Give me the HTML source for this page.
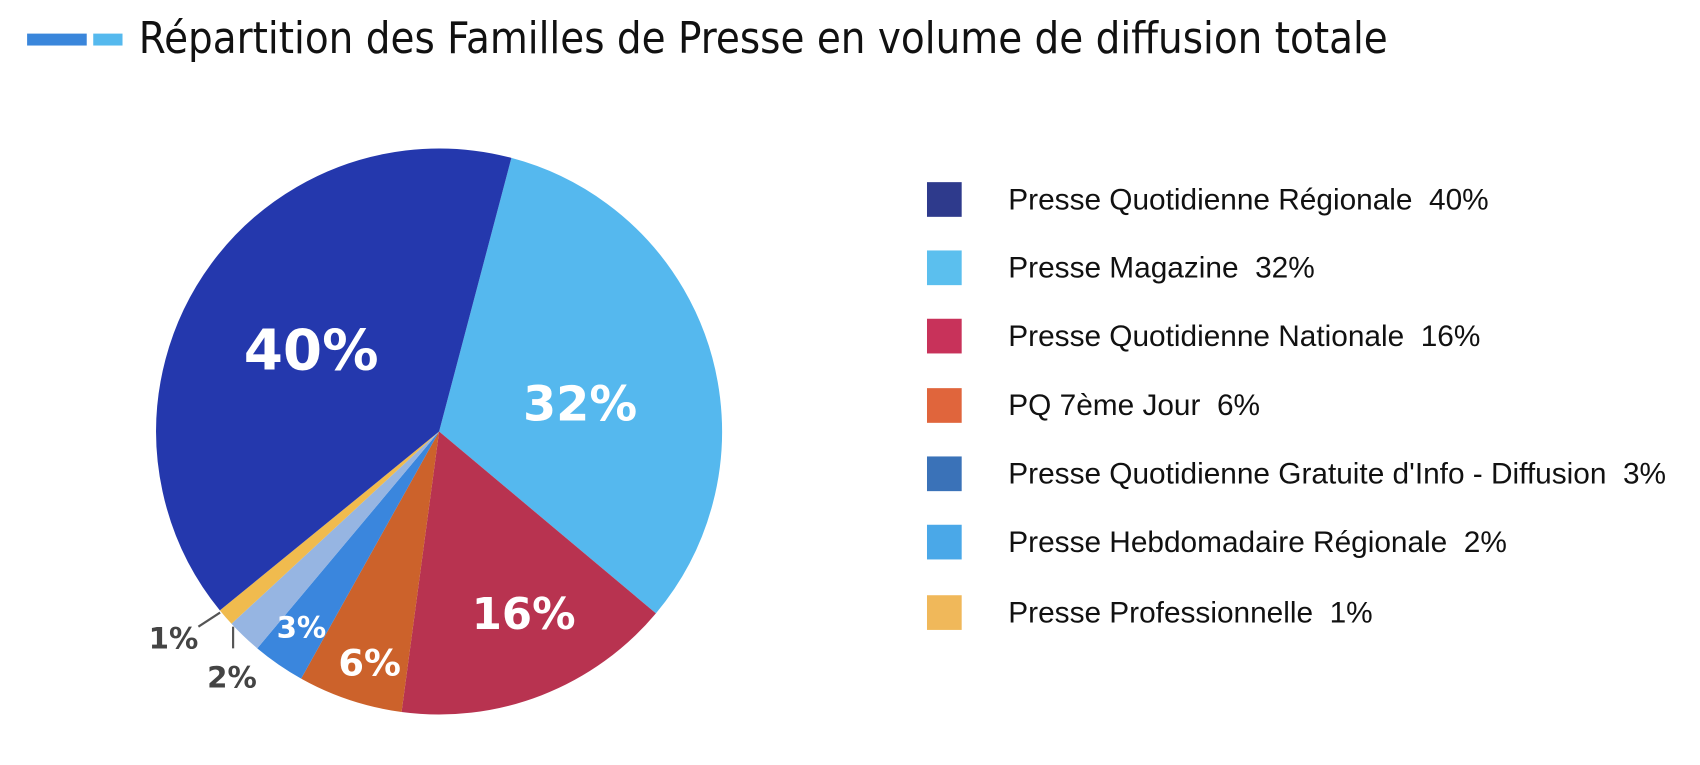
<!DOCTYPE html>
<html><head><meta charset="utf-8"><style>
html,body{margin:0;padding:0;background:#fff;}
body{width:1700px;height:760px;overflow:hidden;}
</style></head><body>
<svg width="1700" height="760" viewBox="0 0 1700 760" xmlns="http://www.w3.org/2000/svg">
<g transform="scale(1.0842)">
<rect x="25" y="31" width="55" height="11" fill="#3a86db"/>
<rect x="86" y="31" width="27" height="11" fill="#55b9ee"/>
<text x="128" y="49" font-family="DejaVu Sans, Liberation Sans, sans-serif" font-size="40" fill="#111" textLength="1152" lengthAdjust="spacingAndGlyphs">Répartition des Familles de Presse en volume de diffusion totale</text>
<g transform="translate(405,398) rotate(-75.2)" fill="none" stroke-width="261">
<circle r="130.5" pathLength="100" stroke="#55b8ee" stroke-dasharray="32 100" stroke-dashoffset="0"/>
<circle r="130.5" pathLength="100" stroke="#b83350" stroke-dasharray="16 100" stroke-dashoffset="-32"/>
<circle r="130.5" pathLength="100" stroke="#cc622b" stroke-dasharray="6 100" stroke-dashoffset="-48"/>
<circle r="130.5" pathLength="100" stroke="#3a86dd" stroke-dasharray="3 100" stroke-dashoffset="-54"/>
<circle r="130.5" pathLength="100" stroke="#96b5e2" stroke-dasharray="2 100" stroke-dashoffset="-57"/>
<circle r="130.5" pathLength="100" stroke="#f0bb4e" stroke-dasharray="1 100" stroke-dashoffset="-59"/>
<circle r="130.5" pathLength="100" stroke="#2438ad" stroke-dasharray="40 100" stroke-dashoffset="-60"/>
</g>
<g font-family="DejaVu Sans, Liberation Sans, sans-serif" font-weight="bold" text-anchor="middle" fill="#fff">
<text x="287" y="341" font-size="52">40%</text>
<text x="535" y="388" font-size="44">32%</text>
<text x="483" y="580" font-size="40">16%</text>
<text x="341" y="623" font-size="34">6%</text>
<text x="278" y="588" font-size="27">3%</text>
<text x="160" y="598" font-size="27" fill="#444">1%</text>
<text x="214" y="634" font-size="27" fill="#444">2%</text>
</g>
<line x1="203" y1="565" x2="183" y2="578" stroke="#555" stroke-width="2"/>
<line x1="215" y1="578" x2="215" y2="598" stroke="#555" stroke-width="2"/>
<g font-family="Liberation Sans, sans-serif" font-size="27.5" fill="#111">
<rect x="855" y="168" width="32" height="32" fill="#2e3a8c"/><text x="930" y="193">Presse Quotidienne Régionale &#160;40%</text>
<rect x="855" y="231" width="32" height="32" fill="#5bbfee"/><text x="930" y="256">Presse Magazine &#160;32%</text>
<rect x="855" y="294" width="32" height="32" fill="#c8325a"/><text x="930" y="319">Presse Quotidienne Nationale &#160;16%</text>
<rect x="855" y="358" width="32" height="32" fill="#e0653c"/><text x="930" y="383">PQ 7ème Jour &#160;6%</text>
<rect x="855" y="421" width="32" height="32" fill="#3a72b8"/><text x="930" y="446">Presse Quotidienne Gratuite d'Info - Diffusion &#160;3%</text>
<rect x="855" y="484" width="32" height="32" fill="#4aa8e8"/><text x="930" y="509">Presse Hebdomadaire Régionale &#160;2%</text>
<rect x="855" y="549" width="32" height="32" fill="#f0b85a"/><text x="930" y="574">Presse Professionnelle &#160;1%</text>
</g>
</g>
</svg>
</body></html>
